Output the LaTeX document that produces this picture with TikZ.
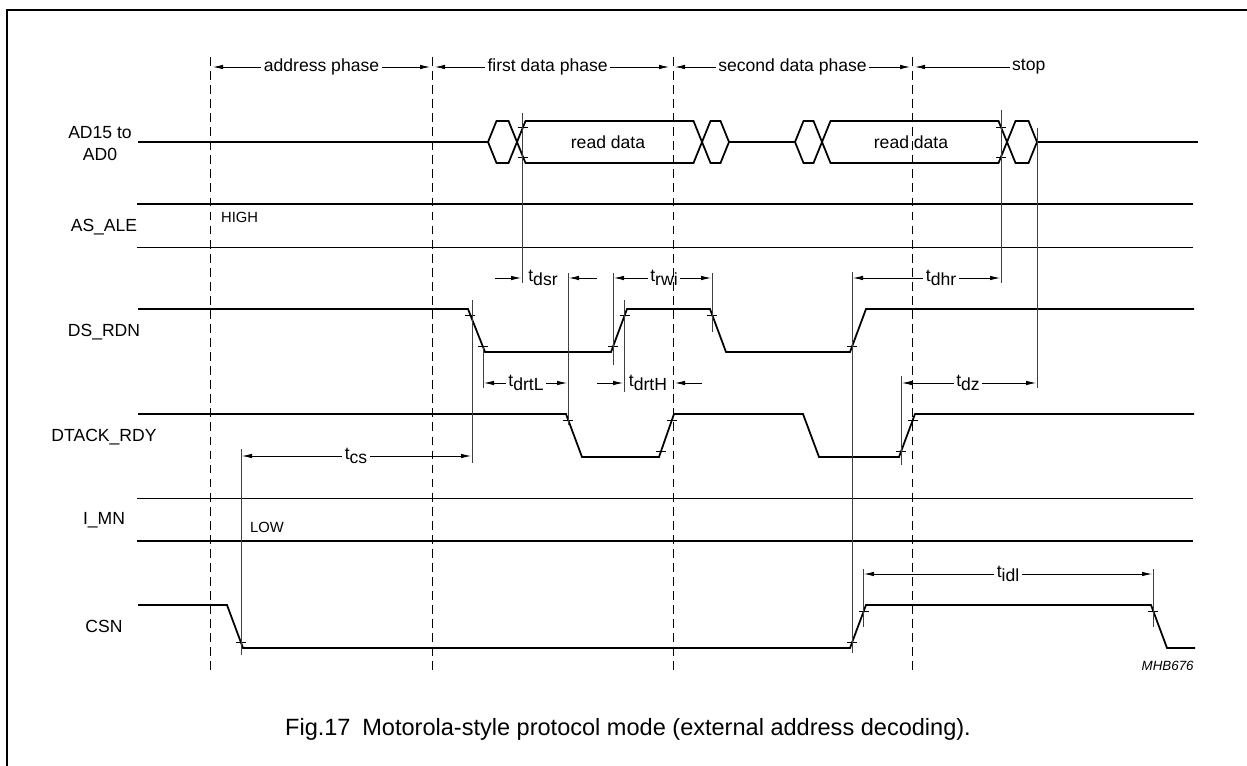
\documentclass[tikz,border=0pt]{standalone}
\usepackage{fontspec}
\setmainfont{Liberation Sans}
\usetikzlibrary{arrows.meta}
\tikzset{>={Latex[length=0.2cm,width=0.09cm]}}
% timing label with lowered index
\newcommand{\tsub}[1]{t\raisebox{-0.45ex}{#1}}
% one cell of the bus, from crossing/point #1 to #2
\newcommand{\buscell}[2]{\draw[sig] (#1,142) -- (#1+8.5,121) -- (#2-8.5,121) -- (#2,142) -- (#2-8.5,163) -- (#1+8.5,163) -- cycle;}
% small mark on an edge
\newcommand{\tk}[2]{\draw[tick] (#1-5,#2) -- (#1+5,#2);}

\begin{document}
\begin{tikzpicture}[x=0.02cm, y=-0.02cm,
    sig/.style={line width=1pt},
    ext/.style={line width=0.45pt, black!75},
    tick/.style={line width=0.45pt},
    dim/.style={<->, line width=0.45pt},
    phaseline/.style={line width=0.5pt, dash pattern=on 5pt off 3pt},
    lbl/.style={font=\fontsize{10}{12.5}\selectfont, align=center, inner sep=1pt},
    tlbl/.style={font=\fontsize{10}{12}\selectfont, fill=white, inner sep=1.5pt},
    lvl/.style={font=\fontsize{8.4}{10}\selectfont, anchor=west, inner sep=1pt}]
  \clip (0,0) rectangle (1247,766);
  \draw[line width=0.6pt] (7,790) -- (7,10) -- (1270,10);

  % signal names
  \node[lbl] (ad) at (100,144) {AD15 to\\AD0};
  \node[lbl] (asale) at (104,227) {AS\_ALE};
  \node[lbl] (dsrdn) at (104,332) {DS\_RDN};
  \node[lbl] (dtack) at (104,437) {DTACK\_RDY};
  \node[lbl] (imn) at (104,520) {I\_MN};
  \node[lbl] (csn) at (104,626) {CSN};

  % phases
  \draw[dim] (213,67) -- node[tlbl] (ph1) {address phase} (430,67);
  \draw[dim] (435,67) -- node[tlbl, xshift=-2.5] (ph2) {first data phase} (669,67);
  \draw[dim] (675,67) -- node[tlbl] (ph3) {second data phase} (910,67);
  \draw[<-, line width=0.45pt] (915,67) -- (1010,67) node[tlbl, anchor=west, inner sep=1pt] (ph4) {stop};

  % AD15 to AD0
  \draw[sig] (138,142) -- (488,142);
  \buscell{488}{517}
  \buscell{517}{702}
  \buscell{702}{729}
  \draw[sig] (729,142) -- (795,142);
  \buscell{795}{822}
  \buscell{822}{1007}
  \buscell{1007}{1037}
  \draw[sig] (1037,142) -- (1198,142);
  \node[lbl] (rd1) at (608,142) {read data};
  \node[lbl] (rd2) at (911,142) {read data};

  % AS_ALE
  \draw[sig] (137,204) -- (1193,204);
  \draw[line width=0.5pt] (137,247) -- (1193,247);
  \node[lvl] (high) at (219,217) {HIGH};

  % DS_RDN
  \draw[sig] (138,309) -- (468,309) -- (485,352) -- (611,352) -- (627,309) -- (710,309)
    -- (726,352) -- (850,352) -- (866,309) -- (1194,309);

  % DTACK_RDY
  \draw[sig] (138,414) -- (566,414) -- (582,457) -- (659,457) -- (674,414) -- (803,414)
    -- (819,457) -- (899,457) -- (915,414) -- (1194,414);

  % I_MN
  \draw[line width=0.5pt] (137,498) -- (1193,498);
  \draw[sig] (137,541) -- (1193,541);
  \node[lvl] (low) at (248,527) {LOW};

  % CSN
  \draw[sig] (138,605) -- (227,605) -- (243,648) -- (850,648) -- (866,605) -- (1151,605)
    -- (1167,648) -- (1195,648);

  % marks on the edges
  \tk{522.5}{127} \tk{522.5}{157} \tk{1001}{127} \tk{1001}{157}
  \tk{470.3}{315} \tk{482.7}{346} \tk{613.3}{346} \tk{624.7}{315} \tk{712.3}{315} \tk{852.3}{346}
  \tk{568.3}{420} \tk{661.3}{451} \tk{672}{420} \tk{901.3}{451} \tk{913}{420}
  \tk{241}{642} \tk{852.3}{642} \tk{864}{611} \tk{1153}{611}

  % extension lines
  \draw[ext] (522,113) -- (522,283);
  \draw[ext] (568,273) -- (568,425);
  \draw[ext] (613,273) -- (613,365);
  \draw[ext] (712,273) -- (712,332);
  \draw[ext] (483,347) -- (483,388);
  \draw[ext] (624,300) -- (624,392);
  \draw[ext] (852,272) -- (852,653);
  \draw[ext] (1001,110) -- (1001,283);
  \draw[ext] (901,376) -- (901,465);
  \draw[ext] (1037,128) -- (1037,388);
  \draw[ext] (241,449) -- (241,655);
  \draw[ext] (472,300) -- (472,463);
  \draw[ext] (863,569) -- (863,627);
  \draw[ext] (1153,569) -- (1153,627);

  % timing parameters
  \draw[->, line width=0.45pt] (495,278) -- (521,278);
  \node[tlbl] (tdsr) at (543,278) {\tsub{dsr}};
  \draw[->, line width=0.45pt] (597,278) -- (569,278);
  \draw[dim] (614,278) -- (711,278);
  \node[tlbl] (trwi) at (664,278) {\tsub{rwi}};
  \draw[dim] (484,383) -- (567,383);
  \node[tlbl] (tdrtl) at (526,383) {\tsub{drtL}};
  \draw[->, line width=0.45pt] (597,383) -- (623,383);
  \node[tlbl] (tdrth) at (648,383) {\tsub{drtH}};
  \draw[->, line width=0.45pt] (702,383) -- (675,383);
  \draw[dim] (853,278) -- (1000,278);
  \node[tlbl] (tdhr) at (941,278) {\tsub{dhr}};
  \draw[dim] (902,383) -- (1036,383);
  \node[tlbl] (tdz) at (968,383) {\tsub{dz}};
  \draw[dim] (242,456) -- (471,456);
  \node[tlbl] (tcs) at (356,456) {\tsub{cs}};
  \draw[dim] (864,574) -- (1152,574);
  \node[tlbl] (tidl) at (1008,574) {\tsub{idl}};

  % phase borders
  \foreach \x in {210,432,673,912}
    \draw[phaseline] (\x,57) -- (\x,670);

  \node[font=\fontsize{7.6}{9}\selectfont\itshape, anchor=east, inner sep=0pt] (code) at (1194,666) {MHB676};
  \node[font=\fontsize{13.4}{16}\selectfont] (cap) at (628,729) {Fig.17\hspace{0.5em}Motorola-style protocol mode (external address decoding).};
\end{tikzpicture}
\end{document}
